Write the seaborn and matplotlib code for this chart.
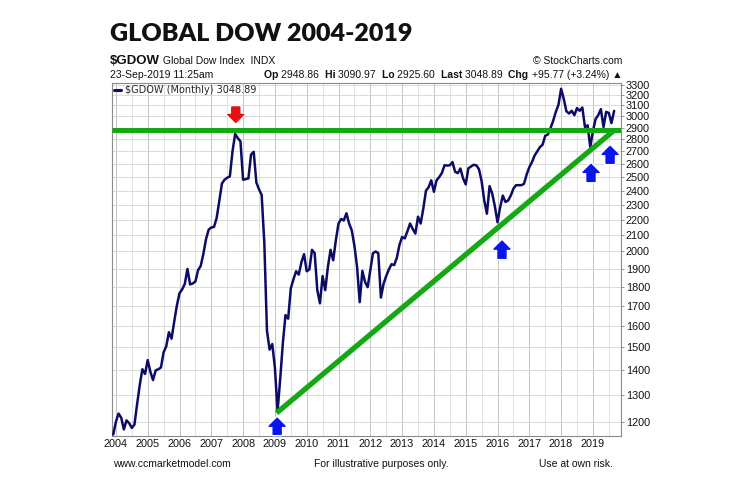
import matplotlib
matplotlib.use("Agg")
import matplotlib.pyplot as plt
import matplotlib.ticker as mticker
from matplotlib import patheffects
import pandas as pd
import seaborn as sns

# $GDOW monthly closes (Dec 2003 .. Sep 2019)
gdow_2003 = [1155]
gdow_2004 = [1200, 1230, 1215, 1173, 1205, 1195, 1178, 1190, 1265, 1340, 1405, 1385]
gdow_2005 = [1444, 1395, 1360, 1400, 1405, 1412, 1478, 1505, 1570, 1540, 1620, 1700]
gdow_2006 = [1765, 1785, 1815, 1898, 1812, 1817, 1828, 1891, 1915, 1985, 2075, 2135]
gdow_2007 = [2150, 2152, 2210, 2325, 2452, 2480, 2495, 2505, 2700, 2845, 2810, 2783]
gdow_2008 = [2480, 2485, 2490, 2675, 2697, 2460, 2410, 2370, 2055, 1578, 1490, 1515]
gdow_2009 = [1412, 1238, 1365, 1520, 1653, 1635, 1790, 1840, 1885, 1866, 1936, 1984]
gdow_2010 = [1885, 1895, 2010, 1990, 1781, 1712, 1858, 1781, 1910, 2010, 1948, 2069]
gdow_2011 = [2175, 2205, 2195, 2243, 2175, 2131, 2035, 1910, 1718, 1887, 1826, 1797]
gdow_2012 = [1891, 1990, 2000, 1990, 1742, 1815, 1858, 1895, 1925, 1920, 1962, 2040]
gdow_2013 = [2089, 2080, 2125, 2175, 2140, 2110, 2220, 2175, 2275, 2400, 2425, 2476]
gdow_2014 = [2392, 2476, 2500, 2530, 2590, 2588, 2590, 2615, 2540, 2530, 2565, 2490]
gdow_2015 = [2446, 2567, 2580, 2594, 2590, 2560, 2470, 2330, 2240, 2433, 2380, 2290]
gdow_2016 = [2183, 2285, 2365, 2320, 2330, 2365, 2415, 2440, 2440, 2440, 2450, 2520]
gdow_2017 = [2575, 2615, 2667, 2700, 2735, 2755, 2830, 2840, 2895, 2960, 3040, 3106]
gdow_2018 = [3258, 3160, 3045, 3025, 3050, 3010, 3075, 3050, 3080, 2905, 2920, 2735]
gdow_2019 = [2870, 2975, 3010, 3065, 2905, 3040, 3030, 2940, 3048.89]

year_ticks = list(range(2004, 2020))
price_ticks = list(range(1200, 3301, 100))

# drawn lines: horizontal resistance and rising trendline from the 2009 low
resistance = 2875
trend_x = [2009.05, 2019.66]
trend_y = [1232, 2875]

# arrows: (x, tail value, tip value, colour)
arrows = [
    (2007.77, 3085, 2945, "#e81010"),
    (2009.07, 1156, 1213, "#0a14ee"),
    (2016.14, 1960, 2063, "#0a14ee"),
    (2018.94, 2468, 2597, "#0a14ee"),
    (2019.54, 2606, 2741, "#0a14ee"),
]

values = (gdow_2003 + gdow_2004 + gdow_2005 + gdow_2006 + gdow_2007 + gdow_2008
          + gdow_2009 + gdow_2010 + gdow_2011 + gdow_2012 + gdow_2013 + gdow_2014
          + gdow_2015 + gdow_2016 + gdow_2017 + gdow_2018 + gdow_2019)
months = pd.period_range("2003-12", periods=len(values), freq="M")
df = pd.DataFrame({"t": months.year + (months.month - 1) / 12.0, "close": values})

sns.set_theme(style="white")
plt.rcParams["font.family"] = ["Liberation Sans", "DejaVu Sans"]

W, H = 739, 488
fig = plt.figure(figsize=(W / 100, H / 100), dpi=100)
ax = fig.add_axes([111.7 / W, 1 - 436 / H, (621 - 111.7) / W, (436 - 83) / H])

ax.set_yscale("log")
sns.lineplot(data=df, x="t", y="close", ax=ax, color="#0c0c66", lw=1.8,
             label="$GDOW (Monthly) 3048.89", zorder=3)

ax.axhline(resistance, color="#14a814", lw=3.6, zorder=4, solid_capstyle="butt")
ax.plot(trend_x, trend_y, color="#14a814", lw=3.8, zorder=4, solid_capstyle="butt")

for x, tail, tip, col in arrows:
    ax.annotate("", xy=(x, tip), xytext=(x, tail),
                arrowprops=dict(arrowstyle="simple,head_length=0.5,head_width=1.0,tail_width=0.5",
                                mutation_scale=11.5, color=col, shrinkA=0, shrinkB=0,
                                path_effects=[patheffects.withStroke(linewidth=3, foreground="white")]),
                zorder=5)

ax.set_xlim(2003.868, 2019.883)
ax.set_ylim(1150, 3315)

ax.yaxis.tick_right()
ax.yaxis.set_major_locator(mticker.FixedLocator(price_ticks))
ax.yaxis.set_major_formatter(mticker.FixedFormatter([str(v) for v in price_ticks]))
ax.yaxis.set_minor_locator(mticker.NullLocator())
ax.yaxis.set_minor_formatter(mticker.NullFormatter())
ax.set_xticks(year_ticks)
ax.set_xticklabels([str(y) for y in year_ticks])
ax.xaxis.set_minor_locator(mticker.FixedLocator([y + 0.5 for y in range(2003, 2020)]))
ax.tick_params(axis="y", which="major", labelsize=7.8, length=2.5, width=0.6,
               color="#888888", pad=1, labelcolor="#111111", right=True, left=False)
ax.tick_params(axis="x", which="both", labelsize=7.8, length=0, pad=2.5, labelcolor="#111111")
ax.set_xlabel("")
ax.set_ylabel("")

ax.grid(True, which="major", axis="x", color="#c4c4c4", lw=0.7)
ax.grid(True, which="minor", axis="x", color="#dcdcdc", lw=0.6)
ax.grid(True, which="major", axis="y", color="#d4d4d4", lw=0.6)
ax.set_axisbelow(True)
for s in ax.spines.values():
    s.set_color("#8a8a8a")
    s.set_linewidth(0.8)

leg = ax.legend(loc="upper left", frameon=False, handlelength=0.7, handletextpad=0.4,
                borderaxespad=0.15, borderpad=0.1, prop={"family": "DejaVu Sans", "size": 7})
for line in leg.get_lines():
    line.set_linewidth(2.2)

# ---- header / footer text ----
fig.text(110 / W, 1 - 34 / H, "GLOBAL DOW 2004-2019", fontsize=18, fontweight="heavy",
         family=["Lato", "DejaVu Sans"], color="#111111", va="center", ha="left")

renderer = fig.canvas.get_renderer()


def text_row(x_px, y_px, pieces, right=False):
    """pieces: (text, weight, size); drawn side by side"""
    seq = list(reversed(pieces)) if right else pieces
    cur = x_px
    for txt, weight, size in seq:
        t = fig.text(cur / W, 1 - y_px / H, txt, fontsize=size, fontweight=weight,
                     ha="right" if right else "left", va="center", color="#111111")
        w = t.get_window_extent(renderer).width
        cur = cur - w if right else cur + w


text_row(110, 61, [("$GDOW", "bold", 9.5), (" Global Dow Index  INDX", "normal", 7.5)])
text_row(622, 61, [("\u00a9 StockCharts.com", "normal", 7.5)], right=True)
text_row(110, 75, [("23-Sep-2019 11:25am", "normal", 7.5)])
text_row(622, 75, [("Op ", "bold", 7.5), ("2948.86  ", "normal", 7.5),
                   ("Hi ", "bold", 7.5), ("3090.97  ", "normal", 7.5),
                   ("Lo ", "bold", 7.5), ("2925.60  ", "normal", 7.5),
                   ("Last ", "bold", 7.5), ("3048.89  ", "normal", 7.5),
                   ("Chg ", "bold", 7.5), ("+95.77 (+3.24%) \u25b2", "normal", 7.5)], right=True)

fig.text(113 / W, 1 - 464 / H, "www.ccmarketmodel.com", fontsize=7.5, va="center", color="#111111")
fig.text(381 / W, 1 - 464 / H, "For illustrative purposes only.", fontsize=7.5, va="center",
         ha="center", color="#111111")
fig.text(613 / W, 1 - 464 / H, "Use at own risk.", fontsize=7.5, va="center", ha="right",
         color="#111111")

fig.savefig("out.png", dpi=100, facecolor="white")
